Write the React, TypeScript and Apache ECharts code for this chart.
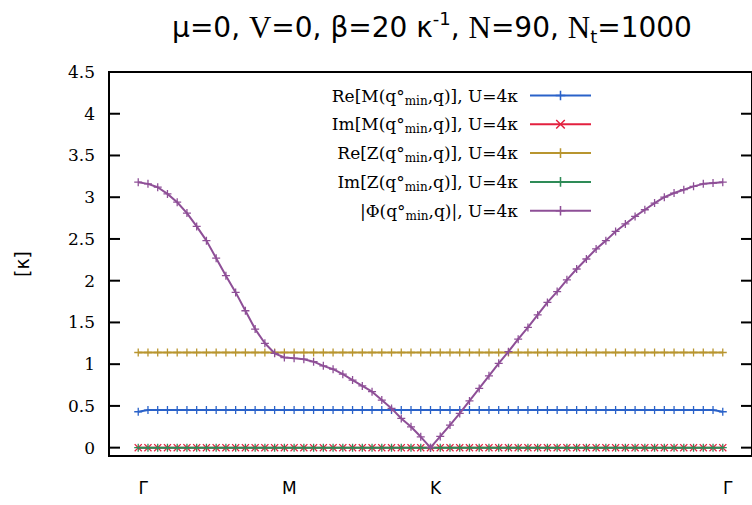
import React, { useEffect, useRef } from "react";
import * as echarts from "echarts";

// q-path index (Γ=0, M=15, K=30, Γ=60)
const xTickValues = [0, 15, 30, 60];
const xTickLabels = ["Γ", "M", "K", "Γ"];
const yTickValues = [0, 0.5, 1, 1.5, 2, 2.5, 3, 3.5, 4, 4.5];

const reM = [
  0.43, 0.45, 0.45, 0.45, 0.45, 0.45, 0.45, 0.45, 0.45, 0.45,
  0.45, 0.45, 0.45, 0.45, 0.45, 0.45, 0.45, 0.45, 0.45, 0.45,
  0.45, 0.45, 0.45, 0.45, 0.45, 0.45, 0.45, 0.45, 0.45, 0.45,
  0.45, 0.45, 0.45, 0.45, 0.45, 0.45, 0.45, 0.45, 0.45, 0.45,
  0.45, 0.45, 0.45, 0.45, 0.45, 0.45, 0.45, 0.45, 0.45, 0.45,
  0.45, 0.45, 0.45, 0.45, 0.45, 0.45, 0.45, 0.45, 0.45, 0.45,
  0.43,
];
const imM = [
  0, 0, 0, 0, 0, 0, 0, 0, 0, 0,
  0, 0, 0, 0, 0, 0, 0, 0, 0, 0,
  0, 0, 0, 0, 0, 0, 0, 0, 0, 0,
  0, 0, 0, 0, 0, 0, 0, 0, 0, 0,
  0, 0, 0, 0, 0, 0, 0, 0, 0, 0,
  0, 0, 0, 0, 0, 0, 0, 0, 0, 0,
  0,
];
const reZ = [
  1.14, 1.14, 1.14, 1.14, 1.14, 1.14, 1.14, 1.14, 1.14, 1.14,
  1.14, 1.14, 1.14, 1.14, 1.14, 1.14, 1.14, 1.14, 1.14, 1.14,
  1.14, 1.14, 1.14, 1.14, 1.14, 1.14, 1.14, 1.14, 1.14, 1.14,
  1.14, 1.14, 1.14, 1.14, 1.14, 1.14, 1.14, 1.14, 1.14, 1.14,
  1.14, 1.14, 1.14, 1.14, 1.14, 1.14, 1.14, 1.14, 1.14, 1.14,
  1.14, 1.14, 1.14, 1.14, 1.14, 1.14, 1.14, 1.14, 1.14, 1.14,
  1.14,
];
const imZ = [
  0, 0, 0, 0, 0, 0, 0, 0, 0, 0,
  0, 0, 0, 0, 0, 0, 0, 0, 0, 0,
  0, 0, 0, 0, 0, 0, 0, 0, 0, 0,
  0, 0, 0, 0, 0, 0, 0, 0, 0, 0,
  0, 0, 0, 0, 0, 0, 0, 0, 0, 0,
  0, 0, 0, 0, 0, 0, 0, 0, 0, 0,
  0,
];
const absPhi = [
  3.18, 3.16, 3.12, 3.04, 2.94, 2.81, 2.65, 2.48, 2.27, 2.06,
  1.86, 1.64, 1.42, 1.25, 1.13, 1.08, 1.07, 1.06, 1.03, 0.98,
  0.94, 0.88, 0.81, 0.74, 0.67, 0.57, 0.47, 0.35, 0.25, 0.13,
  0.0, 0.135, 0.27, 0.41, 0.56, 0.71, 0.86, 1.01, 1.15, 1.3,
  1.44, 1.59, 1.74, 1.87, 2.01, 2.14, 2.26, 2.38, 2.48, 2.59,
  2.68, 2.77, 2.85, 2.93, 3.0, 3.05, 3.09, 3.13, 3.16, 3.17,
  3.18,
];

const seriesNames = ["ReM", "ImM", "ReZ", "ImZ", "Phi"];
const legendLabels: Record<string, string> = {
  ReM: "{a|Re[M(q°}{s|min}{a|,q)], U=4κ}",
  ImM: "{a|Im[M(q°}{s|min}{a|,q)], U=4κ}",
  ReZ: "{a|Re[Z(q°}{s|min}{a|,q)], U=4κ}",
  ImZ: "{a|Im[Z(q°}{s|min}{a|,q)], U=4κ}",
  Phi: "{a||Φ(q°}{s|min}{a|,q)|, U=4κ}",
};
const seriesValues = [reM, imM, reZ, imZ, absPhi];
const seriesColors = ["#2a62c9", "#e3203f", "#b8952f", "#2e8b57", "#8e4f97"];

const PLUS = "path://M-0.8,-5H0.8V-0.8H5V0.8H0.8V5H-0.8V0.8H-5V-0.8H-0.8Z";
const CROSS =
  "path://M-5,-3.9L-3.9,-5L0,-1.1L3.9,-5L5,-3.9L1.1,0L5,3.9L3.9,5L0,1.1L-3.9,5L-5,3.9L-1.1,0Z";
const seriesSymbols = [PLUS, CROSS, PLUS, PLUS, PLUS];

const SERIF = "DejaVu Serif";
const SANS = "DejaVu Sans";
const X_MIN = -3;
const X_MAX = 63;
const TICK_LEN = 11;

export default function App() {
  const ref = useRef<HTMLDivElement>(null);
  useEffect(() => {
    if (!ref.current) return;
    const chart = echarts.init(ref.current, null, { renderer: "svg" });
    const titleGraphic = {
      type: "text",
      x: 432,
      y: 27,
      style: {
        text: "{s|μ=0, }{r|V}{s|=0, β=20 κ}{sup|-1}{s|, }{r|N}{s|=90, }{r|N}{sub|t}{s|=1000}",
        align: "center",
        verticalAlign: "middle",
        fill: "#000",
        rich: {
          s: { fontFamily: SANS, fontSize: 28, lineHeight: 36, verticalAlign: "middle" },
          r: { fontFamily: "Liberation Serif", fontSize: 31, lineHeight: 36, verticalAlign: "middle" },
          sup: { fontFamily: SANS, fontSize: 18, lineHeight: 18, verticalAlign: "top" },
          sub: { fontFamily: SANS, fontSize: 18, lineHeight: 16, verticalAlign: "bottom" },
        },
      },
    };
    const lineSeries = seriesNames.map((name, k) => ({
      name,
      type: "line",
      data: seriesValues[k].map((v, i) => [i, v]),
      symbol: seriesSymbols[k],
      symbolSize: 8,
      showAllSymbol: true,
      lineStyle: { color: seriesColors[k], width: 2 },
      itemStyle: { color: seriesColors[k] },
      emphasis: { disabled: true },
      z: 2 + k,
    }));
    // mirrored y ticks on the frame, drawn through the axis scales
    const tickSeries = {
      name: "yticks",
      type: "custom",
      silent: true,
      clip: false,
      z: 20,
      data: yTickValues.map((v) => [X_MIN, v]),
      renderItem: (_params: any, api: any) => {
        const v = api.value(1);
        const pl = api.coord([X_MIN, v]);
        const pr = api.coord([X_MAX, v]);
        return {
          type: "group",
          children: [
            {
              type: "line",
              shape: { x1: pl[0], y1: pl[1], x2: pl[0] + TICK_LEN, y2: pl[1] },
              style: { stroke: "#000", lineWidth: 2 },
            },
            {
              type: "line",
              shape: { x1: pr[0] - TICK_LEN, y1: pr[1], x2: pr[0], y2: pr[1] },
              style: { stroke: "#000", lineWidth: 2 },
            },
          ],
        };
      },
    };
    const option: any = {
      animation: false,
      backgroundColor: "#fff",
      grid: {
        left: 109,
        top: 72,
        width: 649,
        height: 384,
        show: true,
        borderColor: "#000",
        borderWidth: 2,
        backgroundColor: "transparent",
      },
      graphic: [titleGraphic],
      legend: {
        orient: "vertical",
        align: "right",
        right: 155,
        top: 82,
        itemWidth: 61,
        itemHeight: 12,
        itemGap: 9.3,
        data: seriesNames,
        formatter: (name: string) => legendLabels[name],
        textStyle: {
          padding: [0, 7, 0, 0],
          rich: {
            a: { fontFamily: SERIF, fontSize: 17, lineHeight: 22, color: "#000", verticalAlign: "middle" },
            s: { fontFamily: SERIF, fontSize: 12, lineHeight: 12, color: "#000", verticalAlign: "bottom" },
          },
        },
      },
      xAxis: {
        type: "value",
        min: X_MIN,
        max: X_MAX,
        axisLine: { show: false, onZero: false },
        axisTick: { show: false },
        splitLine: { show: false },
        axisLabel: {
          customValues: xTickValues,
          formatter: (v: number) => xTickLabels[xTickValues.indexOf(v)] ?? "",
          fontFamily: SANS,
          fontSize: 17,
          color: "#000",
          margin: 23,
          padding: [0, 0, 0, 10],
        },
      },
      yAxis: {
        type: "value",
        min: -0.1,
        max: 4.5,
        position: "left",
        name: "[κ]",
        nameLocation: "middle",
        nameGap: 78,
        nameRotate: 90,
        nameTextStyle: { fontFamily: SANS, fontSize: 19, color: "#000" },
        axisLine: { show: false, onZero: false },
        splitLine: { show: false },
        axisTick: { show: false },
        axisLabel: {
          customValues: yTickValues,
          formatter: (v: number) => String(v),
          fontFamily: SERIF,
          fontSize: 17,
          color: "#000",
          margin: 14,
        },
      },
      series: [...lineSeries, tickSeries],
    };
    chart.setOption(option);
    return () => chart.dispose();
  }, []);
  return (
    <div
      ref={ref}
      style={{ position: "absolute", left: 0, top: 0, width: 752, height: 505 }}
    />
  );
}
